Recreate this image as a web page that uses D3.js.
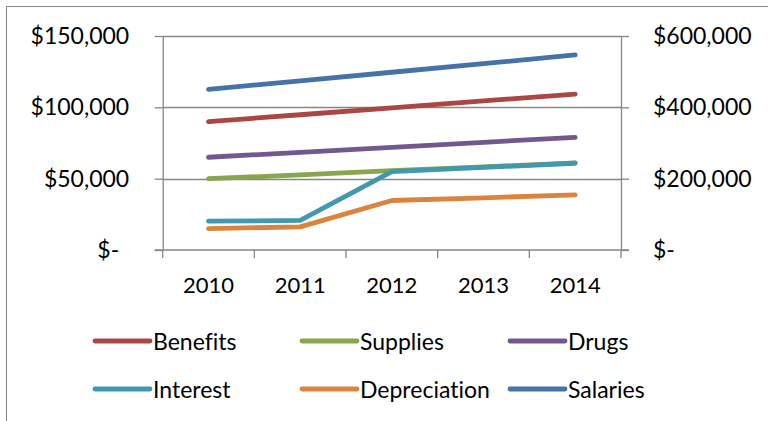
<!DOCTYPE html>
<html>
<head>
<meta charset="utf-8">
<script src="https://cdn.jsdelivr.net/npm/d3@7/dist/d3.min.js"></script>
<style>
  html, body { margin: 0; padding: 0; background: #fff; }
  svg { display: block; font-family: Lato, "Open Sans", sans-serif; font-variant-ligatures: none; }
</style>
</head>
<body>
<svg id="chart" width="768" height="421"></svg>
<script>
// Expense lines, 2010–2014 (dollars, primary axis units)
const years = ["2010", "2011", "2012", "2013", "2014"];
const seriesNames = ["Benefits", "Supplies", "Drugs", "Interest", "Depreciation", "Salaries"];
const benefits     = [90000, 94800, 99600, 104500, 109300];
const supplies     = [50000, 52600, 55600, 58300, 61000];
const drugs        = [65000, 68500, 72000, 75500, 79000];
const interest     = [20200, 20700, 55000, 57900, 60800];
const depreciation = [15000, 16200, 34700, 36600, 38600];
const salaries     = [112600, 118600, 124600, 130600, 136700];
const leftTicks  = [0, 50000, 100000, 150000];
const rightTicks = [0, 200000, 400000, 600000];
const colors = ["#AA4643", "#89A54E", "#71588F", "#4198AF", "#DB843D", "#4572A7"];

const values = [benefits, supplies, drugs, interest, depreciation, salaries];
const series = seriesNames.map((name, i) => ({
  name, color: colors[i],
  points: years.map((yr, j) => ({ year: yr, value: values[i][j] }))
}));

const svg = d3.select("#chart");
const plot = { left: 162.7, right: 621, top: 36, bottom: 250 };

const x = d3.scaleBand().domain(years).range([plot.left, plot.right]).padding(0);
const y = d3.scaleLinear().domain([0, 150000]).range([plot.bottom, plot.top]);
const y2 = d3.scaleLinear().domain([0, 600000]).range([plot.bottom, plot.top]);

const axisGray = "#868686";
const money = v => v === 0 ? "$-" : "$" + d3.format(",")(v);

// outer chart frame
svg.append("rect")
  .attr("x", 6.5).attr("y", 6.5).attr("width", 800).attr("height", 460)
  .attr("fill", "none").attr("stroke", axisGray).attr("stroke-width", 1);

// horizontal gridlines
svg.append("g").selectAll("line").data(leftTicks.filter(t => t > 0)).join("line")
  .attr("x1", plot.left).attr("x2", plot.right)
  .attr("y1", d => Math.round(y(d)) + 0.5).attr("y2", d => Math.round(y(d)) + 0.5)
  .attr("stroke", axisGray).attr("stroke-width", 1.3);

// left axis
const gL = svg.append("g").attr("transform", `translate(${plot.left},0)`)
  .call(d3.axisLeft(y).tickValues(leftTicks).tickFormat(money).tickSize(8).tickSizeOuter(0).tickPadding(25.5));
// right axis
const gR = svg.append("g").attr("transform", `translate(${plot.right},0)`)
  .call(d3.axisRight(y2).tickValues(rightTicks).tickFormat(money).tickSize(8).tickSizeOuter(0).tickPadding(24));

[gL, gR].forEach(g => {
  g.select(".domain").attr("stroke", axisGray).attr("stroke-width", 1.3);
  g.selectAll(".tick line").attr("stroke", axisGray).attr("stroke-width", 1.3);
  g.selectAll(".tick text").attr("font-size", 23).attr("fill", "#000")
    .attr("font-family", "Lato, 'Open Sans', sans-serif");
});
gL.selectAll(".tick text").filter(d => d === 0).attr("dx", -10);

// bottom axis: baseline, category boundary ticks, year labels
const gB = svg.append("g");
gB.append("line")
  .attr("x1", plot.left - 8).attr("x2", plot.right + 8)
  .attr("y1", y(0)).attr("y2", y(0))
  .attr("stroke", axisGray).attr("stroke-width", 1.3);
const bounds = years.map(d => x(d)).concat([x.range()[1]]);
gB.selectAll("line.tk").data(bounds).join("line").attr("class", "tk")
  .attr("x1", d => d).attr("x2", d => d)
  .attr("y1", y(0)).attr("y2", y(0) + 8)
  .attr("stroke", axisGray).attr("stroke-width", 1.3);
gB.selectAll("text").data(years).join("text")
  .attr("x", d => x(d) + x.bandwidth() / 2)
  .attr("y", y(0) + 34)
  .attr("text-anchor", "middle").attr("dominant-baseline", "central")
  .attr("font-size", 22).attr("fill", "#000")
  .text(d => d);

// series lines
const line = d3.line()
  .x(d => x(d.year) + x.bandwidth() / 2)
  .y(d => y(d.value));
svg.append("g").selectAll("path").data(series).join("path")
  .attr("d", d => line(d.points))
  .attr("fill", "none")
  .attr("stroke", d => d.color)
  .attr("stroke-width", 4.8)
  .attr("stroke-linecap", "round")
  .attr("stroke-linejoin", "round");

// legend: two rows of three
const legendCols = [95, 302, 510];
const legendRows = [341, 389];
const leg = svg.append("g").selectAll("g").data(series).join("g")
  .attr("transform", (d, i) => `translate(${legendCols[i % 3]},${legendRows[Math.floor(i / 3)]})`);
leg.append("line")
  .attr("x1", 0).attr("x2", 55).attr("y1", 0).attr("y2", 0)
  .attr("stroke", d => d.color).attr("stroke-width", 4.8)
  .attr("stroke-linecap", "round");
leg.append("text")
  .attr("x", 58).attr("y", 0)
  .attr("dominant-baseline", "central")
  .attr("font-size", 23).attr("fill", "#000")
  .text(d => d.name);
</script>
</body>
</html>
